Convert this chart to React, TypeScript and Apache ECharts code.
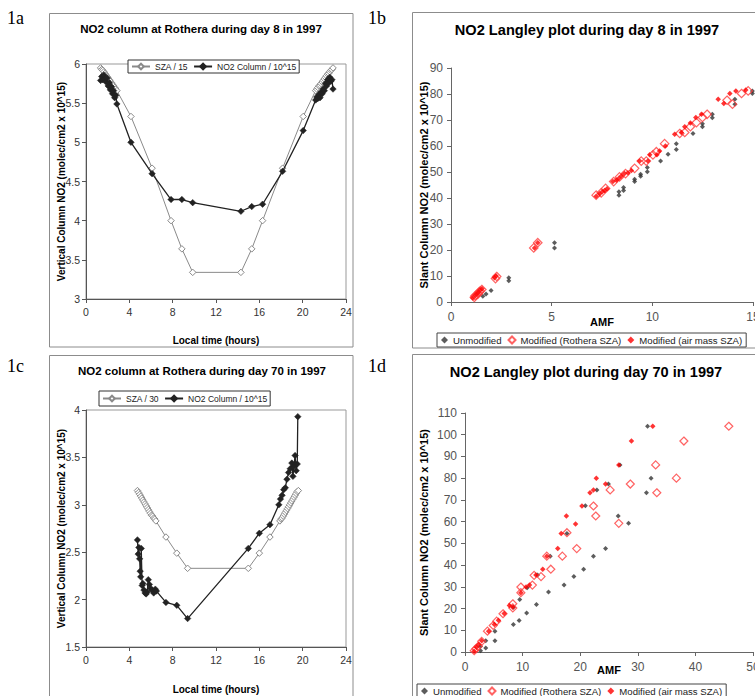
import React, { useEffect, useRef } from "react";
import * as echarts from "echarts";

// ---------- Panel 1a : day 8 diurnal ----------
const timeDay8 = [
  1.35, 1.45, 1.55, 1.65, 1.75, 1.85, 1.95, 2.05, 2.15, 2.25, 2.35, 2.45, 2.55, 2.65, 2.75, 2.85,
  4.15, 6.1, 7.85, 8.85, 9.85, 14.3, 15.3, 16.3, 18.15, 20.05,
  21.2, 21.3, 21.4, 21.5, 21.6, 21.7, 21.8, 21.9, 22.0, 22.1, 22.2, 22.3, 22.4, 22.5, 22.6, 22.7, 22.8,
];
const sza15Day8 = [
  5.95, 5.93, 5.92, 5.9, 5.88, 5.86, 5.84, 5.82, 5.8, 5.78, 5.76, 5.74, 5.72, 5.7, 5.68, 5.66,
  5.33, 4.67, 4.0, 3.64, 3.34, 3.34, 3.64, 4.0, 4.67, 5.33,
  5.66, 5.68, 5.7, 5.72, 5.73, 5.75, 5.77, 5.79, 5.81, 5.83, 5.85, 5.87, 5.88, 5.9, 5.92, 5.93, 5.95,
];
const no2Day8 = [
  5.79, 5.84, 5.8, 5.86, 5.81, 5.77, 5.82, 5.72, 5.76, 5.67, 5.71, 5.62, 5.66, 5.57, 5.6, 5.49,
  5.0, 4.6, 4.27, 4.27, 4.23, 4.12, 4.18, 4.21, 4.63, 5.15,
  5.54, 5.58, 5.56, 5.61, 5.57, 5.64, 5.62, 5.68, 5.66, 5.75, 5.72, 5.8, 5.76, 5.83, 5.78, 5.8, 5.68,
];

// ---------- Panel 1c : day 70 diurnal ----------
const timeSzaDay70 = [
  4.75, 4.85, 4.95, 5.05, 5.15, 5.25, 5.35, 5.45, 5.55, 5.65, 5.75, 5.85, 5.95, 6.05, 6.15, 6.25, 6.35, 6.45,
  7.38, 8.38, 9.38, 14.98, 16.0, 16.98,
  17.9, 18.0, 18.1, 18.2, 18.3, 18.4, 18.5, 18.6, 18.7, 18.8, 18.9, 19.0, 19.1, 19.2, 19.3, 19.4, 19.5, 19.6,
];
const sza30Day70 = [
  3.15, 3.13, 3.11, 3.09, 3.07, 3.05, 3.03, 3.01, 2.99, 2.97, 2.95, 2.93, 2.91, 2.89, 2.88, 2.86, 2.85, 2.83,
  2.66, 2.49, 2.33, 2.33, 2.49, 2.66,
  2.83, 2.85, 2.86, 2.88, 2.9, 2.92, 2.94, 2.96, 2.98, 3.0, 3.02, 3.04, 3.06, 3.08, 3.1, 3.12, 3.14, 3.15,
];
const timeNo2Day70 = [
  4.75, 4.82, 4.88, 4.95, 5.0, 5.05, 5.1, 5.18, 5.25, 5.35, 5.45, 5.55, 5.65, 5.75, 5.85, 5.95, 6.1, 6.25, 6.4, 6.5,
  7.38, 8.38, 9.38, 14.98, 16.0, 16.98,
  17.8, 17.95, 18.1, 18.25, 18.4, 18.55, 18.7, 18.85, 19.0, 19.1, 19.2, 19.3, 19.4, 19.5, 19.55,
];
const no2Day70 = [
  2.63, 2.48, 2.55, 2.43, 2.3, 2.24, 2.54, 2.15, 2.17, 2.1, 2.07, 2.06, 2.08, 2.21, 2.16, 2.12, 2.1, 2.07, 2.11, 2.09,
  1.97, 1.94, 1.8, 2.54, 2.7, 2.79,
  3.0, 3.06, 3.1, 3.16, 3.18, 3.27, 3.34, 3.38, 3.44, 3.3, 3.41, 3.52, 3.36, 3.43, 3.93,
];

// ---------- Panel 1b : Langley day 8 ----------
const unmodDay8Amf = [1.58, 1.74, 1.99, 2.87, 2.87, 5.14, 5.14, 8.34, 8.34, 8.57, 8.57, 9.12, 9.12, 9.42, 9.42, 9.75, 9.75, 10.41, 10.78, 11.19, 11.19, 12.02, 12.49, 12.49, 12.98, 12.98, 14.1, 14.1, 14.97, 14.97];
const unmodDay8Scd = [2.2, 3.1, 4.4, 9.3, 8.2, 22.8, 20.8, 41.1, 42.4, 42.9, 44.0, 47.2, 46.3, 49.1, 48.4, 50.1, 51.7, 54.2, 56.8, 58.7, 60.9, 64.8, 67.4, 68.6, 70.9, 72.2, 76.1, 78.0, 80.2, 81.2];
const rotheraDay8Amf = [1.16, 1.2, 1.28, 1.35, 1.41, 1.45, 1.53, 2.21, 2.27, 4.11, 4.31, 7.21, 7.46, 7.68, 8.08, 8.37, 8.67, 9.12, 9.45, 9.7, 10.03, 10.2, 10.61, 11.36, 11.61, 11.89, 12.19, 12.49, 12.72, 13.71, 13.98, 14.43, 14.76];
const rotheraDay8Scd = [1.8, 2.4, 2.8, 3.2, 3.9, 4.2, 4.8, 9.0, 9.8, 20.8, 22.8, 41.1, 42.0, 43.7, 46.3, 48.1, 49.4, 51.4, 54.2, 54.2, 56.6, 57.8, 60.9, 64.8, 65.2, 67.4, 69.0, 71.0, 72.2, 77.6, 76.1, 80.2, 81.2];
const airmassDay8Amf = [1.08, 1.21, 1.33, 1.44, 1.54, 2.16, 2.24, 4.15, 4.31, 7.21, 7.38, 7.5, 7.63, 7.75, 8.04, 8.21, 8.34, 8.46, 8.62, 8.79, 8.96, 9.37, 9.78, 9.87, 10.23, 10.36, 10.65, 11.11, 11.44, 11.61, 11.89, 12.16, 12.44, 13.27, 13.55, 13.85, 14.15, 14.64];
const airmassDay8Scd = [1.5, 2.6, 3.5, 4.4, 5.1, 9.3, 10.0, 20.8, 22.8, 40.7, 41.6, 42.3, 42.9, 43.6, 46.3, 46.8, 47.6, 48.5, 49.4, 49.7, 50.6, 54.2, 54.2, 56.6, 56.6, 58.1, 60.0, 64.5, 65.2, 67.4, 68.8, 71.0, 72.2, 78.0, 76.3, 80.2, 81.2, 81.5];

// ---------- Panel 1d : Langley day 70 ----------
const unmodDay70Amf = [31.7, 26.9, 32.3, 24.9, 22.9, 31.5, 20.9, 26.6, 28.4, 17.7, 24.4, 22.3, 14.8, 20.6, 18.9, 17.2, 14.5, 12.4, 10.7, 9.4, 8.4, 12.6, 10.8, 9.5, 8.4, 5.2, 5.2, 3.6, 3.6, 2.7, 2.7];
const unmodDay70Scd = [103.9, 86.1, 80.0, 77.3, 74.6, 73.3, 67.3, 62.6, 59.2, 54.5, 47.6, 44.1, 44.1, 38.1, 34.7, 30.8, 27.6, 21.9, 18.0, 14.5, 12.6, 35.4, 29.6, 24.2, 20.6, 9.6, 5.2, 5.2, 1.8, 0.6, 2.6];
const rotheraDay70Amf = [45.8, 38.0, 33.1, 36.7, 33.3, 28.7, 25.2, 22.3, 22.7, 26.7, 17.7, 19.4, 16.9, 14.9, 13.2, 11.7, 12.0, 14.2, 9.7, 9.7, 8.3, 8.3, 6.6, 5.5, 4.9, 3.9, 2.9, 2.3, 1.9, 1.6];
const rotheraDay70Scd = [103.9, 97.1, 86.1, 80.0, 73.3, 77.3, 74.6, 67.2, 62.6, 59.2, 54.9, 47.6, 44.1, 38.1, 34.7, 30.8, 35.3, 44.1, 29.9, 27.3, 20.3, 22.2, 17.6, 14.2, 12.2, 9.6, 4.9, 2.6, 1.5, 0.6];
const airmassDay70Amf = [32.6, 28.9, 26.7, 22.8, 24.4, 22.3, 21.7, 20.3, 17.6, 19.2, 16.7, 16.1, 14.2, 13.5, 12.3, 11.2, 10.6, 9.7, 8.3, 7.7, 6.8, 5.8, 5.1, 4.1, 2.9, 2.4, 2.0, 1.6];
const airmassDay70Scd = [103.9, 97.1, 86.1, 80.0, 77.3, 74.6, 73.3, 67.2, 62.6, 58.9, 54.5, 47.6, 44.1, 38.1, 35.4, 30.8, 29.9, 27.3, 20.6, 21.4, 17.7, 14.6, 12.6, 9.6, 5.2, 3.4, 2.2, 0.3];

// ---------- texts ----------
const titles = [
  "NO2 column at Rothera during day 8 in 1997",
  "NO2 Langley plot during day 8 in 1997",
  "NO2 column at Rothera during day 70 in 1997",
  "NO2 Langley plot during day 70 in 1997",
];
const panelLabels = ["1a", "1b", "1c", "1d"];
const diurnalLegend8 = ["SZA / 15", "NO2 Column / 10^15"];
const diurnalLegend70 = ["SZA / 30", "NO2 Column / 10^15"];
const langleyLegend = ["Unmodified", "Modified (Rothera SZA)", "Modified (air mass SZA)"];
const vcdAxisName = "Vertical Column NO2 (molec/cm2 x 10^15)";
const scdAxisName = "Slant Column NO2 (molec/cm2 x 10^15)";
const timeAxisName = "Local time (hours)";
const amfAxisName = "AMF";

const SANS = '"Liberation Sans", Arial, sans-serif';
const SERIF = '"Liberation Serif", "Times New Roman", serif';

const zip = (xs: number[], ys: number[]) => xs.map((x, i) => [x, ys[i]]);

function buildOption() {
  const diurnalX = (gridIndex: number, nameGap: number) => ({
    type: "value", gridIndex, min: 0, max: 24, interval: 4,
    name: timeAxisName, nameLocation: "middle", nameGap, nameMoveOverlap: false,
    nameTextStyle: { fontFamily: SANS, fontSize: 10, fontWeight: "bold", color: "#000" },
    axisLine: { onZero: false, lineStyle: { color: "#555", width: 1 } },
    axisTick: { length: 4, lineStyle: { color: "#555" } },
    axisLabel: { fontFamily: SANS, fontSize: 10.5, color: "#333", margin: 7 },
    splitLine: { show: false },
  });
  const diurnalY = (gridIndex: number, min: number, max: number) => ({
    type: "value", gridIndex, min, max, interval: 0.5,
    name: vcdAxisName, nameLocation: "middle", nameGap: 20, nameMoveOverlap: false,
    nameTextStyle: { fontFamily: SANS, fontSize: 10, fontWeight: "bold", color: "#000" },
    axisLine: { onZero: false, lineStyle: { color: "#555", width: 1 } },
    axisTick: { length: 4, lineStyle: { color: "#555" } },
    axisLabel: { fontFamily: SANS, fontSize: 10.5, color: "#333", margin: 6 },
    splitLine: { show: false },
  });
  const langleyX = (gridIndex: number, max: number, interval: number, nameGap: number) => ({
    type: "value", gridIndex, min: 0, max, interval,
    name: amfAxisName, nameLocation: "middle", nameGap, nameMoveOverlap: false,
    nameTextStyle: { fontFamily: SANS, fontSize: 11, fontWeight: "bold", color: "#000" },
    axisLine: { onZero: false, lineStyle: { color: "#666", width: 1 } },
    axisTick: { length: 4, lineStyle: { color: "#666" } },
    axisLabel: { fontFamily: SANS, fontSize: 12, color: "#555", margin: 9 },
    splitLine: { show: false },
  });
  const langleyY = (gridIndex: number, max: number, nameGap: number) => ({
    type: "value", gridIndex, min: 0, max, interval: 10,
    name: scdAxisName, nameLocation: "middle", nameGap, nameMoveOverlap: false,
    nameTextStyle: { fontFamily: SANS, fontSize: 11, fontWeight: "bold", color: "#000" },
    axisLine: { onZero: false, lineStyle: { color: "#666", width: 1 } },
    axisTick: { length: 4, lineStyle: { color: "#666" } },
    axisLabel: { fontFamily: SANS, fontSize: 12, color: "#555", margin: 8 },
    splitLine: { show: false },
  });

  const szaSeries = (name: string, idx: number, data: number[][]) => ({
    name, type: "line", xAxisIndex: idx, yAxisIndex: idx, data,
    symbol: "diamond", symbolSize: 6.5,
    itemStyle: { color: "#fff", borderColor: "#8a8a8a", borderWidth: 1 },
    lineStyle: { color: "#8a8a8a", width: 1 },
    z: 2,
  });
  const no2Series = (name: string, idx: number, data: number[][]) => ({
    name, type: "line", xAxisIndex: idx, yAxisIndex: idx, data,
    symbol: "diamond", symbolSize: 6.5,
    itemStyle: { color: "#222", borderColor: "#222", borderWidth: 0.5 },
    lineStyle: { color: "#222", width: 1.3 },
    z: 3,
  });
  const unmodSeries = (idx: number, data: number[][]) => ({
    name: langleyLegend[0], type: "scatter", xAxisIndex: idx, yAxisIndex: idx, data,
    symbol: "diamond", symbolSize: 5,
    itemStyle: { color: "#333" }, z: 2,
  });
  const rotheraSeries = (idx: number, data: number[][], size: number) => ({
    name: langleyLegend[1], type: "scatter", xAxisIndex: idx, yAxisIndex: idx, data,
    symbol: "diamond", symbolSize: size,
    itemStyle: { color: "rgba(255,255,255,0)", borderColor: "#ff3c3c", borderWidth: 1.2 }, z: 3,
  });
  const airmassSeries = (idx: number, data: number[][]) => ({
    name: langleyLegend[2], type: "scatter", xAxisIndex: idx, yAxisIndex: idx, data,
    symbol: "diamond", symbolSize: 5.5,
    itemStyle: { color: "#ff0000" }, z: 4,
  });

  const diurnalLegend = (data: string[], left: number, top: number, pad: number[]) => ({
    data, left, top, orient: "horizontal", padding: pad, width: 400,
    itemWidth: 18, itemHeight: 7, itemGap: 5,
    borderColor: "#333", borderWidth: 1, backgroundColor: "#fff",
    textStyle: { fontFamily: SANS, fontSize: 8.5, color: "#222" },
    selectedMode: false,
  });
  const langleyLegendCfg = (left: number, top: number) => ({
    data: langleyLegend, left, top, orient: "horizontal", padding: [2, 4, 2, 4], width: 600,
    itemWidth: 7, itemHeight: 7, itemGap: 6,
    borderColor: "#444", borderWidth: 1, backgroundColor: "#fff",
    textStyle: { fontFamily: SANS, fontSize: 9.6, color: "#222" },
    selectedMode: false,
  });

  const titleCfg = (text: string, left: number, top: number, fontSize: number) => ({
    text, left, top, textAlign: "center", padding: 0,
    textStyle: { fontFamily: SANS, fontSize, fontWeight: "bold", color: "#000" },
  });

  const box = (x: number, y: number, w: number, h: number) => ({
    type: "rect", shape: { x, y, width: w, height: h },
    style: { fill: "none", stroke: "#8c8c8c", lineWidth: 1 }, silent: true, z: -10,
  });
  const label = (text: string, x: number, y: number) => ({
    type: "text", x, y,
    style: { text, font: `18px ${SERIF}`, fill: "#000", verticalAlign: "top" },
  });

  const gridBase = { outerBoundsMode: "none", containLabel: false };

  return {
    animation: false,
    backgroundColor: "#fff",
    textStyle: { fontFamily: SANS },
    title: [
      titleCfg(titles[0], 201, 23, 11.5),
      titleCfg(titles[1], 587, 22, 14.6),
      titleCfg(titles[2], 202, 365, 11.5),
      titleCfg(titles[3], 586, 364, 14.6),
    ],
    legend: [
      diurnalLegend(diurnalLegend8, 128, 60, [2, 3, 2, 3]),
      langleyLegendCfg(437, 333),
      diurnalLegend(diurnalLegend70, 99, 391, [3, 3, 3, 3]),
      langleyLegendCfg(417, 684),
    ],
    grid: [
      { ...gridBase, left: 86, top: 64, width: 260, height: 235, show: true, borderColor: "#999", borderWidth: 1, backgroundColor: "transparent" },
      { ...gridBase, left: 451, top: 68, width: 302, height: 234 },
      { ...gridBase, left: 86, top: 410, width: 260, height: 237, show: true, borderColor: "#999", borderWidth: 1, backgroundColor: "transparent" },
      { ...gridBase, left: 465, top: 413, width: 288, height: 239 },
    ],
    xAxis: [
      diurnalX(0, 36),
      langleyX(1, 15, 5, 14),
      diurnalX(2, 37),
      langleyX(3, 50, 10, 12),
    ],
    yAxis: [
      diurnalY(0, 3, 6),
      langleyY(1, 90, 22),
      diurnalY(2, 1.5, 4),
      langleyY(3, 110, 36),
    ],
    series: [
      szaSeries(diurnalLegend8[0], 0, zip(timeDay8, sza15Day8)),
      no2Series(diurnalLegend8[1], 0, zip(timeDay8, no2Day8)),
      unmodSeries(1, zip(unmodDay8Amf, unmodDay8Scd)),
      rotheraSeries(1, zip(rotheraDay8Amf, rotheraDay8Scd), 8.5),
      airmassSeries(1, zip(airmassDay8Amf, airmassDay8Scd)),
      szaSeries(diurnalLegend70[0], 2, zip(timeSzaDay70, sza30Day70)),
      no2Series(diurnalLegend70[1], 2, zip(timeNo2Day70, no2Day70)),
      unmodSeries(3, zip(unmodDay70Amf, unmodDay70Scd)),
      rotheraSeries(3, zip(rotheraDay70Amf, rotheraDay70Scd), 8),
      airmassSeries(3, zip(airmassDay70Amf, airmassDay70Scd)),
    ],
    graphic: [
      box(49.5, 13.5, 303.5, 333.5),
      box(412.5, 12.5, 400, 335.5),
      box(49.5, 355.5, 303.5, 400),
      box(412.5, 354.5, 400, 400),
      label(panelLabels[0], 7, 9),
      label(panelLabels[1], 368, 9),
      label(panelLabels[2], 7, 357),
      label(panelLabels[3], 368, 357),
    ],
  };
}

export default function App() {
  const ref = useRef<HTMLDivElement>(null);
  useEffect(() => {
    if (!ref.current) return;
    const chart = echarts.init(ref.current, undefined, { renderer: "svg" });
    chart.setOption(buildOption() as any);
    return () => chart.dispose();
  }, []);
  return (
    <div
      ref={ref}
      style={{ position: "absolute", left: 0, top: 0, width: 755, height: 696, background: "#fff" }}
    />
  );
}
